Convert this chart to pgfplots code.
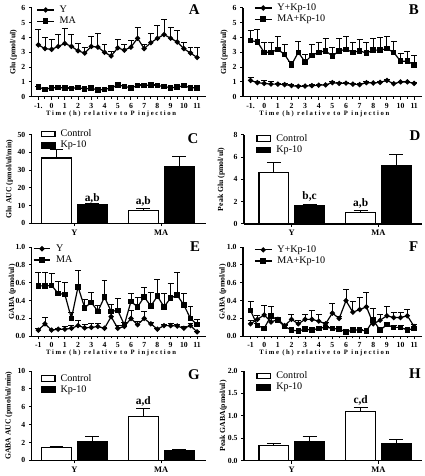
\documentclass[border=0pt]{standalone}
\usepackage{fontspec}
\setmainfont{Liberation Serif}
\newfontfamily\rotfont{Liberation Serif}
\newfontfamily\timefont{Liberation Serif}[LetterSpace=25]
\usepackage{pgfplots}
\usepackage{pgfplotstable}
\pgfplotsset{compat=1.18}

\newcommand\ticklabfont{\fontsize{7.8}{8}\selectfont\bfseries}
\newcommand\ylabfont{\rotfont\fontsize{7.8}{9}\selectfont\bfseries}
\newcommand\legfont{\fontsize{10.2}{11}\selectfont}
\newcommand\catfont{\fontsize{8.5}{9}\selectfont\bfseries}
\newcommand\annfont{\fontsize{11.5}{12}\selectfont\bfseries}
\newcommand\letfont{\fontsize{15}{15}\selectfont\bfseries}
\newcommand\timelabfont{\timefont\fontsize{6.7}{7}\selectfont\bfseries}

% Panel A: Glu, Y (circles) and MA (squares)
\pgfplotstableread{
t y ey m em
-1 3.5 1.05 0.65 0.05
-0.5 3.25 0.75 0.5 0.05
0 3.2 0.7 0.6 0.05
0.5 3.4 0.8 0.62 0.05
1 3.6 1.0 0.6 0.05
1.5 3.4 0.8 0.55 0.05
2 3.1 0.5 0.63 0.05
2.5 2.95 0.35 0.52 0.05
3 3.4 0.7 0.58 0.05
3.5 3.35 0.9 0.45 0.05
4 3.0 0.5 0.5 0.05
4.5 2.75 0.3 0.58 0.05
5 3.3 0.55 0.8 0.08
5.5 3.15 0.35 0.7 0.06
6 3.35 0.45 0.6 0.05
6.5 3.95 0.75 0.75 0.05
7 3.25 0.3 0.75 0.05
7.5 3.65 0.6 0.8 0.06
8 3.95 0.85 0.75 0.05
8.5 4.2 1.05 0.7 0.05
9 3.95 0.75 0.6 0.05
9.5 3.7 0.8 0.65 0.05
10 3.25 0.4 0.75 0.06
10.5 2.95 0.35 0.6 0.05
11 2.65 0.65 0.6 0.05
}\tA

% Panel B: Glu, Y+Kp-10 (circles) and MA+Kp-10 (squares)
\pgfplotstableread{
t y ey m em
-1 1.1 0.2 3.8 0.65
-0.5 0.95 0.1 3.7 0.85
0 0.9 0.2 3.0 0.65
0.5 0.85 0.2 3.0 0.7
1 0.85 0.08 3.2 0.85
1.5 0.82 0.06 2.85 0.65
2 0.75 0.05 2.15 0.25
2.5 0.7 0.05 3.0 0.75
3 0.72 0.05 2.35 0.5
3.5 0.75 0.05 2.8 0.7
4 0.78 0.05 3.0 0.7
4.5 0.8 0.05 3.1 0.85
5 0.95 0.05 2.75 0.6
5.5 0.9 0.05 3.1 0.85
6 0.92 0.05 3.2 0.85
6.5 0.85 0.05 3.0 0.7
7 0.82 0.05 3.1 0.8
7.5 0.95 0.05 2.95 0.75
8 0.93 0.05 3.15 0.8
8.5 0.97 0.05 3.15 0.85
9 1.1 0.05 3.25 0.8
9.5 0.88 0.05 3.0 0.75
10 1.0 0.05 2.4 0.55
10.5 1.0 0.05 2.4 0.65
11 0.9 0.05 2.15 0.65
}\tB

% Panel E: GABA, Y (circles) and MA (squares)
\pgfplotstableread{
t y ey m em
-1 0.07 0.02 0.565 0.145
-0.5 0.14 0.07 0.565 0.155
0 0.07 0.01 0.57 0.13
0.5 0.08 0.01 0.48 0.14
1 0.08 0.03 0.47 0.13
1.5 0.09 0.03 0.20 0.07
2 0.12 0.06 0.555 0.185
2.5 0.095 0.035 0.32 0.09
3 0.10 0.04 0.38 0.11
3.5 0.11 0.03 0.28 0.07
4 0.09 0.01 0.44 0.19
4.5 0.22 0.04 0.28 0.08
5 0.09 0.03 0.29 0.13
5.5 0.11 0.01 0.13 0.03
6 0.20 0.09 0.39 0.09
6.5 0.13 0.04 0.33 0.10
7 0.20 0.08 0.44 0.11
7.5 0.14 0.01 0.34 0.15
8 0.08 0.01 0.45 0.19
8.5 0.12 0.01 0.33 0.15
9 0.12 0.02 0.43 0.16
9.5 0.115 0.015 0.46 0.25
10 0.09 0.02 0.35 0.13
10.5 0.12 0.02 0.20 0.13
11 0.05 0.01 0.13 0.06
}\tE

% Panel F: GABA, Y+Kp-10 (circles) and MA+Kp-10 (squares)
\pgfplotstableread{
t y ey m em
-1 0.14 0.04 0.29 0.10
-0.5 0.19 0.04 0.12 0.02
0 0.24 0.11 0.09 0.02
0.5 0.16 0.04 0.23 0.11
1 0.19 0.02 0.18 0.03
1.5 0.12 0.01 0.11 0.01
2 0.19 0.06 0.07 0.02
2.5 0.14 0.04 0.06 0.01
3 0.19 0.06 0.08 0.01
3.5 0.19 0.10 0.07 0.01
4 0.17 0.07 0.09 0.01
4.5 0.14 0.02 0.10 0.01
5 0.26 0.11 0.09 0.01
5.5 0.20 0.02 0.08 0.01
6 0.40 0.13 0.05 0.01
6.5 0.27 0.12 0.07 0.01
7 0.30 0.13 0.07 0.01
7.5 0.33 0.16 0.06 0.01
8 0.14 0.17 0.18 0.02
8.5 0.18 0.07 0.07 0.01
9 0.23 0.11 0.13 0.03
9.5 0.21 0.06 0.10 0.02
10 0.21 0.06 0.10 0.02
10.5 0.23 0.07 0.07 0.02
11 0.11 0.02 0.09 0.02
}\tF

% Bar panels: x=0 Y, x=1 MA
\pgfplotstableread{
g c ec k ek
0 36.8 4.8 10.7 0.5
1 7.3 1.2 31.7 6.0
}\tC
\pgfplotstableread{
g c ec k ek
0 4.6 0.95 1.63 0.15
1 1.0 0.2 5.2 1.0
}\tD
\pgfplotstableread{
g c ec k ek
0 1.4 0.2 2.1 0.55
1 4.9 0.9 1.1 0.15
}\tG
\pgfplotstableread{
g c ec k ek
0 0.33 0.06 0.43 0.12
1 1.09 0.09 0.37 0.11
}\tH

\pgfplotsset{
  panel/.style={scale only axis, anchor=south west, axis lines*=left,
    axis line style={-, line width=1.2pt}, tick align=outside,
    major tick length=3pt, minor tick length=2pt,
    tick style={line width=1pt, black},
    ymin=0, clip=false,
    tick label style={font=\ticklabfont},
    /pgf/number format/assume math mode=true,
    ylabel style={font=\ylabfont, anchor=center},
    legend style={draw=none, fill=none, font=\legfont, inner sep=0pt, row sep=3pt,
      column sep=5pt, nodes={inner sep=0pt}, anchor=north west},
    legend cell align=left},
  tsp/.style={panel, xmin=-1.5, xmax=11.7, xtick={-1,...,11}, minor x tick num=1,
    xlabel={Time (h) relative to P injection},
    xlabel style={font=\timelabfont, at={(axis description cs:0.455,0)}, anchor=center, yshift=-17pt}},
  bpanel/.style={panel, ybar, bar width=30pt, xtick={0,1}, xticklabels={Y,MA},
    xticklabel style={font=\catfont},
    legend image code/.code={\draw[##1,/tikz/.cd,line width=1.1pt] (0pt,-2.8pt) rectangle (14pt,2.8pt);}},
  circ/.style={black, line width=1.2pt, mark=*, mark size=2pt, mark options={solid},
    error bars/.cd, y dir=plus, y explicit, error bar style={line width=0.9pt},
    error mark options={rotate=90, mark size=3pt, line width=0.9pt}},
  sq/.style={black, line width=1.2pt, mark=square*, mark size=2.2pt, mark options={solid},
    error bars/.cd, y dir=plus, y explicit, error bar style={line width=0.9pt},
    error mark options={rotate=90, mark size=3pt, line width=0.9pt}},
  ctrl/.style={draw=black, fill=white, line width=1.2pt, bar shift=-18pt,
    error bars/.cd, y dir=plus, y explicit, error bar style={line width=1pt, black},
    error mark options={rotate=90, mark size=7pt, line width=1pt, black}},
  kp/.style={draw=black, fill=black, line width=1.2pt, bar shift=18pt,
    error bars/.cd, y dir=plus, y explicit, error bar style={line width=1pt, black},
    error mark options={rotate=90, mark size=7pt, line width=1pt, black}},
}

\begin{document}
\begin{tikzpicture}
\path (0,0) rectangle (427pt,476pt);

% ---------- A ----------
\begin{axis}[tsp, at={(32pt,378.5pt)}, width=176pt, height=89.5pt, ymax=6, ytick={0,...,6},
  xticklabels={-1.,0,1,2,3,4,5,6,7,8,9,10,11},
  ylabel={Glu (pmol/ul)}, ylabel style={at={(axis description cs:-0.105,0.5)}},
  legend style={at={(axis description cs:0,1)}, xshift=4.7pt, yshift=2.2pt}]
\addplot[circ] table[x=t,y=y,y error=ey]{\tA}; \addlegendentry{Y}
\addplot[sq] table[x=t,y=m,y error=em]{\tA}; \addlegendentry{MA}
\end{axis}

% ---------- B ----------
\begin{axis}[tsp, at={(245pt,378.5pt)}, width=180pt, height=89.5pt, xmin=-1.55, xmax=11.55,
  ymax=6, ytick={0,...,6},
  xticklabels={-1.,0,1,2,3,4,5,6,7,8,9,10,11},
  ylabel={Glu (pmol/ul)}, ylabel style={at={(axis description cs:-0.106,0.5)}},
  legend style={at={(axis description cs:0,1)}, xshift=11pt, yshift=4.2pt}]
\addplot[circ] table[x=t,y=y,y error=ey]{\tB}; \addlegendentry{Y+Kp-10}
\addplot[sq] table[x=t,y=m,y error=em]{\tB}; \addlegendentry{MA+Kp-10}
\end{axis}

% ---------- C ----------
\begin{axis}[bpanel, at={(32pt,251pt)}, width=176pt, height=89.3pt,
  xmin=-0.491, xmax=1.52, ymax=50, ytick={0,10,...,50},
  ylabel={Glu AUC (pmol/ul/min)}, ylabel style={at={(axis description cs:-0.128,0.5)}},
  legend style={at={(axis description cs:0,1)}, xshift=8.7pt, yshift=5.2pt}]
\addplot[ctrl] table[x=g,y=c,y error=ec]{\tC}; \addlegendentry{Control}
\addplot[kp] table[x=g,y=k,y error=ek]{\tC}; \addlegendentry{Kp-10}
\node[font=\annfont, xshift=18pt] at (axis cs:0,14) {a,b};
\node[font=\annfont, xshift=-18pt] at (axis cs:1,12.3) {a,b};
\end{axis}

% ---------- D ----------
\begin{axis}[bpanel, at={(246pt,250.3pt)}, width=179pt, height=89.7pt,
  xmin=-0.549, xmax=1.497, ymax=8, ytick={0,2,...,8},
  ylabel={Peak Glu (pmol/ul)}, ylabel style={at={(axis description cs:-0.128,0.5)}},
  legend style={at={(axis description cs:0,1)}, xshift=12.3pt, yshift=0.7pt}]
\addplot[ctrl] table[x=g,y=c,y error=ec]{\tD}; \addlegendentry{Control}
\addplot[kp] table[x=g,y=k,y error=ek]{\tD}; \addlegendentry{Kp-10}
\node[font=\annfont, xshift=18pt] at (axis cs:0,2.5) {b,c};
\node[font=\annfont, xshift=-18pt] at (axis cs:1,1.85) {a,b};
\end{axis}

% ---------- E ----------
\begin{axis}[tsp, at={(32pt,137pt)}, width=176pt, height=90pt, ymax=1.0, ytick={0,0.2,...,1.0},
  yticklabel style={/pgf/number format/.cd, fixed, fixed zerofill, precision=1},
  xticklabels={-1,0,1,2,3,4,5,6,7,8,9,10,11},
  ylabel={GABA (pmol/ul)}, ylabel style={at={(axis description cs:-0.111,0.5)}},
  legend style={at={(axis description cs:0,1)}, xshift=1pt, yshift=2.5pt}]
\addplot[circ] table[x=t,y=y,y error=ey]{\tE}; \addlegendentry{Y}
\addplot[sq] table[x=t,y=m,y error=em]{\tE}; \addlegendentry{MA}
\end{axis}

% ---------- F ----------
\begin{axis}[tsp, at={(245pt,137pt)}, width=180pt, height=90pt, xmin=-1.55, xmax=11.55,
  ymax=1.0, ytick={0,0.2,...,1.0},
  yticklabel style={/pgf/number format/.cd, fixed, fixed zerofill, precision=1},
  xticklabels={-1,0,1,2,3,4,5,6,7,8,9,10,11},
  ylabel={GABA (pmol/ul)}, ylabel style={at={(axis description cs:-0.114,0.5)}},
  legend style={at={(axis description cs:0,1)}, xshift=11pt, yshift=1.5pt}]
\addplot[circ] table[x=t,y=y,y error=ey]{\tF}; \addlegendentry{Y+Kp-10}
\addplot[sq] table[x=t,y=m,y error=em]{\tF}; \addlegendentry{MA+Kp-10}
\end{axis}

% ---------- G ----------
\begin{axis}[bpanel, at={(32pt,12pt)}, width=176pt, height=90pt,
  xmin=-0.491, xmax=1.52, ymax=10, ytick={0,2,...,10},
  ylabel={GABA AUC (pmol/ul/min)}, ylabel style={at={(axis description cs:-0.131,0.5)}},
  legend style={at={(axis description cs:0,1)}, xshift=8.7pt, yshift=-3pt}]
\addplot[ctrl] table[x=g,y=c,y error=ec]{\tG}; \addlegendentry{Control}
\addplot[kp] table[x=g,y=k,y error=ek]{\tG}; \addlegendentry{Kp-10}
\node[font=\annfont, xshift=-18pt] at (axis cs:1,6.55) {a,d};
\end{axis}

% ---------- H ----------
\begin{axis}[bpanel, at={(246pt,11.7pt)}, width=179pt, height=90.3pt,
  xmin=-0.549, xmax=1.497, ymax=2.0, ytick={0,0.5,...,2.0},
  yticklabel style={/pgf/number format/.cd, fixed, fixed zerofill, precision=1},
  ylabel={Peak GABA(pmol/ul)}, ylabel style={at={(axis description cs:-0.117,0.5)}},
  legend style={at={(axis description cs:0,1)}, xshift=12.3pt, yshift=-0.5pt}]
\addplot[ctrl] table[x=g,y=c,y error=ec]{\tH}; \addlegendentry{Control}
\addplot[kp] table[x=g,y=k,y error=ek]{\tH}; \addlegendentry{Kp-10}
\node[font=\annfont, xshift=-18pt] at (axis cs:1,1.35) {c,d};
\end{axis}

% panel letters
\node[font=\letfont] at (195.7pt,466.5pt) {A};
\node[font=\letfont] at (417.2pt,466.5pt) {B};
\node[font=\letfont] at (194.5pt,336pt) {C};
\node[font=\letfont] at (418.3pt,338.8pt) {D};
\node[font=\letfont] at (196.7pt,227pt) {E};
\node[font=\letfont] at (417pt,227.5pt) {F};
\node[font=\letfont] at (195.5pt,98pt) {G};
\node[font=\letfont] at (418.3pt,99pt) {H};
\end{tikzpicture}
\end{document}
